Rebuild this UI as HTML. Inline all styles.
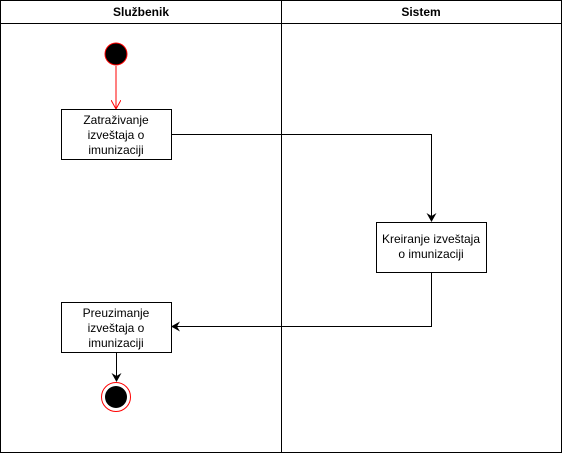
<!DOCTYPE html>
<html><head><style>body{margin:0;background:#fff}</style></head><body>
<svg width="562" height="453" xmlns="http://www.w3.org/2000/svg" font-family="Liberation Sans, Arial, sans-serif">
<defs>
<marker id="a" markerWidth="10" markerHeight="10" refX="8" refY="5" orient="auto" markerUnits="userSpaceOnUse"><path d="M0,0 L9,5 L0,10 L3,5 Z" fill="#000"/></marker>
<marker id="r" markerWidth="10" markerHeight="10" refX="8" refY="5" orient="auto" markerUnits="userSpaceOnUse"><path d="M0,0 L9,5 M9,5 L0,10" stroke="#f00" fill="none"/></marker>
</defs>
<rect x="0.5" y="0.5" width="561" height="452" fill="#fff" stroke="#000"/>
<line x1="0" y1="23.5" x2="562" y2="23.5" stroke="#000"/>
<line x1="281.5" y1="0" x2="281.5" y2="453" stroke="#000"/>
<text x="141" y="16" font-size="12" font-weight="bold" text-anchor="middle">Službenik</text>
<text x="421" y="16" font-size="12" font-weight="bold" text-anchor="middle">Sistem</text>
<circle cx="116" cy="54" r="11" fill="#000" stroke="#f00"/>
<line x1="116" y1="66" x2="116" y2="108" stroke="#f00" marker-end="url(#r)"/>
<rect x="61.5" y="109.5" width="110" height="50" fill="#fff" stroke="#000"/>
<text font-size="12" text-anchor="middle"><tspan x="116" y="124">Zatraživanje</tspan><tspan x="116" y="139">izveštaja o</tspan><tspan x="116" y="154">imunizaciji</tspan></text>
<polyline points="171,134.5 431.5,134.5 431.5,221" fill="none" stroke="#000" marker-end="url(#a)"/>
<rect x="376.5" y="222.5" width="110" height="50" fill="#fff" stroke="#000"/>
<text font-size="12" text-anchor="middle"><tspan x="431" y="243">Kreiranje izveštaja</tspan><tspan x="431" y="258">o imunizaciji</tspan></text>
<polyline points="431.5,272 431.5,326.5 172,326.5" fill="none" stroke="#000" marker-end="url(#a)"/>
<rect x="61.5" y="302.5" width="110" height="50" fill="#fff" stroke="#000"/>
<text font-size="12" text-anchor="middle"><tspan x="116" y="317">Preuzimanje</tspan><tspan x="116" y="332">izveštaja o</tspan><tspan x="116" y="347">imunizaciji</tspan></text>
<line x1="116.5" y1="353" x2="116.5" y2="381" stroke="#000" marker-end="url(#a)"/>
<circle cx="116" cy="397" r="14.5" fill="#fff" stroke="#f00"/>
<circle cx="116" cy="397" r="11" fill="#000"/>
</svg>
</body></html>
